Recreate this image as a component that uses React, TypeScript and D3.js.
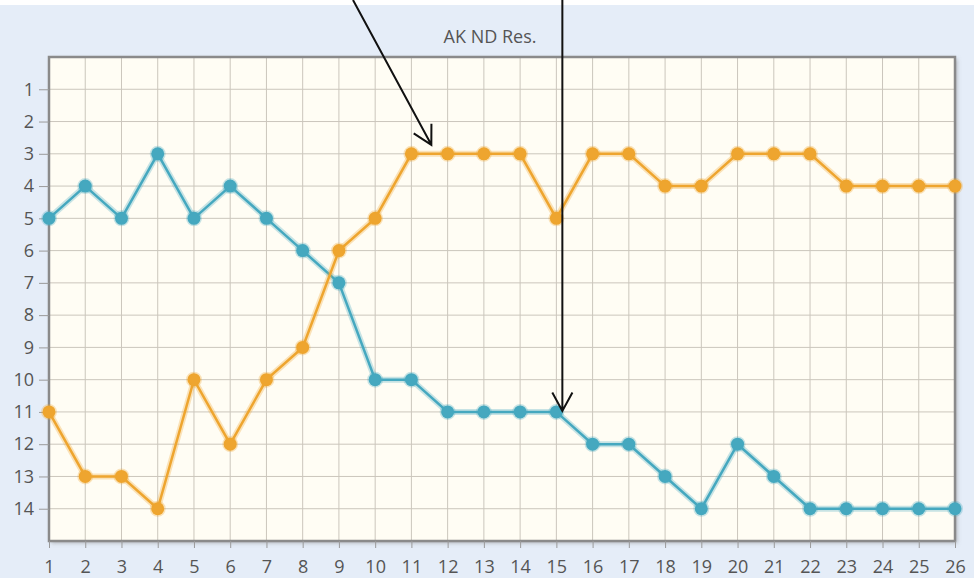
import React, { useEffect, useRef } from "react";
import * as d3 from "d3";

const rounds = d3.range(1, 27);
const yTicks = d3.range(1, 15);
const tealSeries = [5, 4, 5, 3, 5, 4, 5, 6, 7, 10, 10, 11, 11, 11, 11, 12, 12, 13, 14, 12, 13, 14, 14, 14, 14, 14];
const orangeSeries = [11, 13, 13, 14, 10, 12, 10, 9, 6, 5, 3, 3, 3, 3, 5, 3, 3, 4, 4, 3, 3, 3, 4, 4, 4, 4];
const title = "AK ND Res.";

const App = () => {
  const svgRef = useRef<SVGSVGElement>(null);

  useEffect(() => {
    const w = 978;
    const h = 578;
    const m = { left: 49, right: 23, top: 57, bottom: 37 };
    const svg = d3.select(svgRef.current).attr("width", w).attr("height", h);
    svg.selectAll("*").remove();

    const defs = svg.append("defs");
    const f = defs.append("filter").attr("id", "shadow").attr("x", "-5%").attr("y", "-5%").attr("width", "110%").attr("height", "110%");
    f.append("feDropShadow").attr("dx", 2).attr("dy", 2).attr("stdDeviation", 2).attr("flood-color", "#888").attr("flood-opacity", 0.6);

    // background
    svg.append("rect").attr("width", w).attr("height", h).attr("fill", "#fff");
    svg.append("rect").attr("x", 0).attr("y", 5).attr("width", 974).attr("height", h - 5).attr("fill", "#e5edf8");

    const xScale = d3.scaleLinear().domain([1, 26]).range([m.left, w - m.right]);
    const yScale = d3.scaleLinear().domain([0, 15]).range([m.top, h - m.bottom]);

    // plot area
    svg
      .append("rect")
      .attr("x", m.left)
      .attr("y", m.top)
      .attr("width", w - m.left - m.right)
      .attr("height", h - m.top - m.bottom)
      .attr("fill", "#fffdf4")
      .attr("filter", "url(#shadow)");

    //grid
    svg
      .append("g")
      .selectAll("line")
      .data(rounds)
      .join("line")
      .attr("x1", (d) => xScale(d))
      .attr("x2", (d) => xScale(d))
      .attr("y1", m.top)
      .attr("y2", h - m.bottom)
      .attr("stroke", "#cbc6bc")
      .attr("stroke-width", 1);
    svg
      .append("g")
      .selectAll("line")
      .data(yTicks)
      .join("line")
      .attr("x1", m.left)
      .attr("x2", w - m.right)
      .attr("y1", (d) => yScale(d))
      .attr("y2", (d) => yScale(d))
      .attr("stroke", "#cbc6bc")
      .attr("stroke-width", 1);

    // border
    svg
      .append("rect")
      .attr("x", m.left)
      .attr("y", m.top)
      .attr("width", w - m.left - m.right)
      .attr("height", h - m.top - m.bottom)
      .attr("fill", "none")
      .attr("stroke", "#8a8a8a")
      .attr("stroke-width", 2.5);

    // axes
    const yAxis = svg
      .append("g")
      .attr("transform", `translate(${m.left},0)`)
      .call(d3.axisLeft(yScale).tickValues(yTicks).tickSize(10).tickPadding(5));
    const xAxis = svg
      .append("g")
      .attr("transform", `translate(0,${h - m.bottom})`)
      .call(d3.axisBottom(xScale).tickValues(rounds).tickSize(7).tickPadding(12));
    [yAxis, xAxis].forEach((a) => {
      a.attr("font-size", null).attr("font-family", null);
      a.select(".domain").remove();
      a.selectAll("line").attr("stroke", "#9a9a9a");
      a.selectAll("text").attr("fill", "#555").style("font-family", "Open Sans").style("font-size", "18px");
    });

    svg
      .append("text")
      .attr("x", 490)
      .attr("y", 43)
      .attr("text-anchor", "middle")
      .attr("fill", "#555")
      .style("font-family", "Open Sans")
      .style("font-size", "18px")
      .text(title);

    const line = d3
      .line<number>()
      .x((d, i) => xScale(rounds[i]))
      .y((d) => yScale(d));

    const series = [
      { data: tealSeries, color: "#45a8bf" },
      { data: orangeSeries, color: "#eea52f" },
    ];
    series.forEach((s) => {
      svg
        .append("path")
        .attr("d", line(s.data))
        .attr("fill", "none")
        .attr("stroke", s.color)
        .attr("stroke-opacity", 0.3)
        .attr("stroke-width", 6);
      svg
        .append("path")
        .attr("d", line(s.data))
        .attr("fill", "none")
        .attr("stroke", s.color)
        .attr("stroke-width", 2.5);
      svg
        .append("g")
        .selectAll("circle")
        .data(s.data)
        .join("circle")
        .attr("cx", (d, i) => xScale(rounds[i]))
        .attr("cy", (d) => yScale(d))
        .attr("r", 6.5)
        .attr("fill", s.color)
        .attr("stroke", s.color)
        .attr("stroke-opacity", 0.3)
        .attr("stroke-width", 3);
    });

    // hand drawn arrows
    const tip2 = xScale(15) + 6;
    const arrows = [
      { x0: 353, tipX: xScale(11.55), tipY: yScale(3) - 9 },
      { x0: tip2, tipX: tip2, tipY: yScale(11) - 1 },
    ];
    arrows.forEach((a) => {
      const ang = Math.atan2(a.tipY, a.tipX - a.x0);
      const len = 21;
      const spread = 0.5;
      svg
        .append("path")
        .attr(
          "d",
          `M${a.x0},0L${a.tipX},${a.tipY}` +
            `M${a.tipX - len * Math.cos(ang - spread)},${a.tipY - len * Math.sin(ang - spread)}L${a.tipX},${a.tipY}` +
            `L${a.tipX - len * Math.cos(ang + spread)},${a.tipY - len * Math.sin(ang + spread)}`
        )
        .attr("fill", "none")
        .attr("stroke", "#111")
        .attr("stroke-width", 2);
    });
  }, []);

  return (
    <div style={{ position: "absolute", left: 0, top: 0 }}>
      <svg ref={svgRef} style={{ display: "block" }}></svg>
    </div>
  );
};

export default App;
